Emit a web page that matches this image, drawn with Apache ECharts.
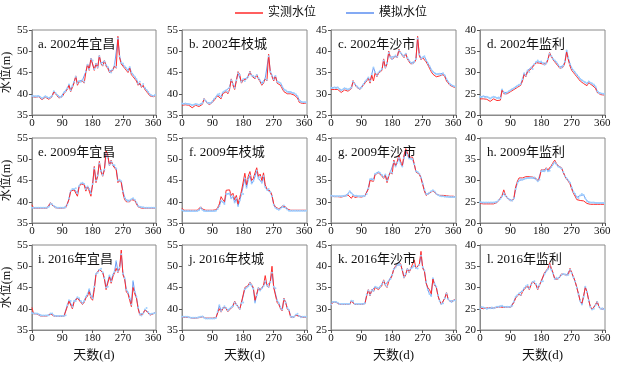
<!DOCTYPE html>
<html><head><meta charset="utf-8">
<script src="https://cdn.jsdelivr.net/npm/echarts@6/dist/echarts.min.js"></script>
<style>html,body{margin:0;padding:0;background:#fff}#c{width:626px;height:374px}</style>
</head><body><div id="c"></div>
<script>
const days = [0,5,10,15,20,25,30,35,40,45,50,55,60,65,70,75,80,85,90,95,100,105,110,115,120,125,130,135,140,145,150,155,160,165,170,175,180,185,190,195,200,205,210,215,220,225,230,235,240,245,250,255,260,265,270,275,280,285,290,295,300,305,310,315,320,325,330,335,340,345,350,355,360,365];
const xTicks = [0,90,180,270,360];
const titles = ['a. 2002年宜昌','b. 2002年枝城','c. 2002年沙市','d. 2002年监利','e. 2009年宜昌','f. 2009年枝城','g. 2009年沙市','h. 2009年监利','i. 2016年宜昌','j. 2016年枝城','k. 2016年沙市','l. 2016年监利'];
const yMins = [35,35,25,20,35,35,25,20,35,35,25,20];
const yMaxs = [55,55,45,40,55,55,45,40,55,55,45,40];

const a_obs=[39.3,39.0,39.2,39.0,39.3,39.0,38.6,38.9,39.2,39.0,38.7,39.0,39.3,40.5,40.0,39.5,39.0,39.0,39.3,40.0,40.3,41.0,42.0,40.5,41.5,42.5,44.2,42.0,42.8,42.5,43.0,42.5,45.0,47.0,45.5,48.4,48.0,45.5,47.2,46.0,49.0,47.0,46.5,47.8,46.5,46.0,45.0,44.8,45.5,46.5,46.0,53.5,48.5,47.0,46.8,46.0,45.5,45.0,46.0,44.5,44.0,43.5,43.0,42.0,42.5,41.5,42.0,41.0,40.5,40.0,39.5,39.4,39.3,39.5];
const a_sim=[39.5,39.3,39.4,39.3,39.5,39.2,38.9,39.1,39.4,39.2,39.0,39.2,39.5,40.6,40.2,39.7,39.3,39.2,39.5,40.3,40.6,41.3,42.2,40.8,41.8,42.8,44.0,42.5,43.0,42.8,43.2,42.8,45.2,46.8,45.8,48.2,47.8,45.8,47.0,46.3,48.8,47.2,46.8,47.6,46.8,46.3,45.3,45.0,45.7,46.7,46.3,53.0,48.8,47.3,47.1,46.4,46.0,45.5,46.3,45.0,44.5,44.0,43.4,42.4,42.8,41.9,42.3,41.4,40.9,40.4,39.8,39.6,39.5,39.7];
const b_obs=[37.3,37.2,37.4,37.2,37.3,37.0,36.7,37.0,37.3,37.2,37.0,37.3,37.5,38.9,38.2,37.8,37.4,37.5,38.0,38.5,38.8,39.5,39.8,38.8,40.0,40.2,40.5,40.0,41.0,43.5,42.0,41.0,43.0,45.2,44.5,42.5,43.2,42.8,43.5,44.0,45.3,44.2,44.0,43.5,44.5,43.5,42.8,42.0,42.5,43.5,43.0,49.3,45.0,44.0,43.0,44.2,42.5,42.2,42.0,41.2,40.5,40.3,40.0,39.8,40.0,39.8,39.7,39.5,39.0,38.0,37.8,37.7,37.7,37.8];
const b_sim=[37.7,37.6,37.7,37.6,37.6,37.5,37.3,37.4,37.6,37.5,37.4,37.6,37.8,38.7,38.3,37.9,37.7,37.8,38.2,38.8,39.2,39.8,40.0,39.3,40.3,40.6,40.8,40.5,41.5,43.2,42.3,41.4,43.2,44.8,44.4,42.8,43.4,43.0,43.6,44.0,45.0,44.3,44.2,43.8,44.4,43.7,43.1,42.4,42.8,43.6,43.3,48.8,45.2,44.3,43.4,44.2,42.9,42.7,42.5,41.7,41.0,40.8,40.5,40.3,40.4,40.2,40.1,39.9,39.4,38.5,38.1,38.0,38.0,38.0];
const c_obs=[31.0,30.8,31.0,30.8,31.0,30.6,30.3,30.6,30.9,30.8,30.6,30.8,31.2,33.1,32.2,31.6,31.2,31.0,31.3,32.0,32.5,33.0,33.6,32.5,34.4,33.0,35.0,34.0,34.8,35.2,35.5,38.2,36.0,37.0,40.0,38.5,38.0,38.5,39.0,38.5,40.5,39.5,39.0,38.5,39.5,38.2,37.5,37.0,36.8,37.3,38.0,43.5,39.0,38.0,38.5,38.8,37.5,36.8,36.0,35.2,34.6,34.3,34.0,34.0,34.2,34.0,34.5,34.0,33.0,32.5,32.0,31.8,31.6,31.5];
const c_sim=[31.4,31.3,31.5,31.3,31.5,31.1,30.8,31.0,31.3,31.2,31.0,31.2,31.5,32.8,32.3,31.8,31.4,31.2,31.5,32.2,32.8,33.3,33.8,33.0,34.6,36.2,35.0,34.3,35.0,35.4,35.8,37.8,36.3,37.2,39.6,38.6,38.2,38.7,39.0,38.7,40.2,39.6,39.2,38.8,39.4,38.4,37.8,37.3,37.1,37.5,38.2,43.0,39.3,38.3,38.6,38.8,37.9,37.2,36.5,35.7,35.2,34.9,34.6,34.6,34.7,34.5,34.8,34.3,33.4,32.8,32.3,32.0,31.8,31.7];
const d_obs=[23.8,23.6,23.8,23.5,23.7,23.4,23.2,23.5,23.8,23.6,23.4,23.6,23.5,25.9,25.0,24.7,25.0,25.4,25.5,25.8,26.0,26.3,26.5,26.8,27.0,28.0,29.5,29.0,30.2,29.8,30.8,30.5,31.8,32.3,32.5,32.2,32.4,32.0,31.6,32.0,33.0,34.7,33.8,33.0,32.5,32.2,31.5,31.0,30.8,31.3,32.3,34.8,33.0,31.5,30.5,30.0,29.5,29.0,28.5,28.0,27.7,27.4,27.2,26.9,27.6,27.2,27.0,26.8,26.3,25.3,24.9,24.8,24.7,24.7];
const d_sim=[24.3,24.2,24.4,24.2,24.3,24.1,23.9,24.1,24.3,24.2,24.0,24.1,24.0,26.0,25.3,25.0,25.3,25.6,25.8,26.1,26.3,26.6,26.9,27.1,27.3,28.4,29.8,29.3,30.5,30.1,31.1,30.8,32.0,32.5,32.8,32.5,32.6,32.2,31.8,32.2,33.2,34.4,33.9,33.2,32.8,32.4,31.8,31.3,31.1,31.6,32.6,35.2,33.4,32.0,31.0,30.5,30.0,29.5,29.0,28.5,28.2,27.9,27.7,27.4,27.9,27.6,27.4,27.2,26.7,25.6,25.2,25.1,25.0,25.0];
const e_obs=[39.3,38.5,38.5,38.5,38.4,38.5,38.5,38.5,38.4,38.5,38.6,39.8,39.2,38.8,38.6,38.5,38.5,38.5,38.5,38.5,38.6,39.0,40.5,42.5,42.8,42.8,43.0,41.3,43.5,44.2,44.3,44.0,42.5,43.5,42.5,41.3,44.0,48.3,44.5,46.0,49.5,47.0,46.0,47.5,52.0,51.0,48.5,49.8,48.5,48.5,47.5,44.5,45.0,44.5,42.0,40.5,40.0,39.8,40.0,40.5,40.7,40.3,39.5,38.8,38.6,38.5,38.5,38.5,38.5,38.5,38.5,38.5,38.5,38.5];
const e_sim=[38.6,38.6,38.6,38.6,38.6,38.6,38.6,38.6,38.6,38.6,38.8,39.6,39.4,39.0,38.7,38.6,38.6,38.6,38.6,38.6,38.7,39.3,40.8,42.6,43.0,43.0,43.2,42.0,43.7,44.3,44.5,44.2,43.0,43.6,43.0,42.0,44.2,47.8,45.0,46.2,49.0,47.3,46.3,47.6,51.2,50.6,48.7,49.5,48.7,48.6,47.8,45.0,45.2,44.8,42.5,41.0,40.4,40.1,40.3,40.6,40.8,40.5,39.8,39.0,38.8,38.7,38.7,38.6,38.6,38.6,38.6,38.6,38.6,38.6];
const f_obs=[38.5,38.0,38.0,38.0,38.0,38.0,38.0,38.0,38.0,38.0,38.3,38.8,38.3,38.0,38.0,38.0,38.0,38.0,38.0,38.0,38.1,38.6,39.5,41.2,40.5,40.0,42.7,42.5,42.8,41.5,42.0,40.5,41.5,39.5,41.0,42.5,42.5,46.7,44.0,46.0,47.1,45.0,45.5,46.8,48.0,46.0,46.5,45.0,46.8,44.0,43.0,43.2,42.5,41.5,39.5,38.8,38.5,38.3,38.6,39.0,39.3,38.8,38.3,38.0,38.0,38.0,38.0,38.0,38.0,38.0,38.0,38.0,38.0,38.0];
const f_sim=[38.0,37.8,37.8,37.8,37.8,37.8,37.8,37.8,37.8,37.8,38.0,38.6,38.1,37.8,37.8,37.8,37.8,37.8,37.8,37.8,37.9,38.3,39.0,40.3,40.0,39.5,41.8,41.8,42.0,40.8,41.3,39.8,40.8,39.0,40.3,41.8,41.8,45.5,43.3,45.2,46.2,44.3,44.8,46.0,47.3,45.5,45.8,44.5,46.0,43.5,42.8,43.0,42.3,41.3,39.3,38.6,38.3,38.1,38.4,38.8,39.1,38.6,38.2,37.9,37.9,37.9,37.9,37.9,37.9,37.9,37.9,37.9,37.9,37.9];
const g_obs=[31.3,31.2,31.2,31.1,31.2,31.2,31.1,31.2,31.3,31.2,31.6,31.8,30.8,31.5,31.0,31.4,31.2,31.5,31.1,31.3,31.4,31.8,33.0,35.0,35.0,34.8,36.4,36.5,36.8,36.4,36.0,35.5,36.2,34.5,36.0,37.0,36.5,39.8,38.5,39.5,41.0,39.5,38.5,41.0,42.5,41.5,40.5,40.5,40.5,39.0,37.0,36.8,36.5,35.5,34.0,32.5,31.5,31.7,32.0,32.4,32.6,32.3,31.8,31.6,31.5,31.4,31.5,31.3,31.4,31.2,31.3,31.2,31.3,31.2];
const g_sim=[31.4,31.3,31.3,31.3,31.3,31.3,31.3,31.3,31.4,31.4,31.8,32.5,32.0,31.6,31.4,31.4,31.3,31.3,31.3,31.3,31.4,31.8,33.2,35.3,35.4,35.2,36.6,36.7,37.0,36.7,36.3,35.8,36.4,35.0,36.2,37.0,36.8,39.3,38.3,39.2,40.3,39.0,38.3,40.3,42.0,41.0,40.2,40.2,40.0,38.8,37.2,37.0,36.6,35.7,34.3,32.8,31.8,31.8,32.1,32.5,32.7,32.4,31.9,31.6,31.4,31.3,31.3,31.2,31.2,31.2,31.1,31.1,31.1,31.1];
const h_obs=[24.6,24.6,24.5,24.6,24.5,24.5,24.5,24.6,24.5,24.6,24.8,25.3,25.6,26.5,27.8,26.5,26.0,25.5,25.2,25.2,26.0,28.5,29.8,30.6,30.9,30.6,30.9,30.9,31.0,30.9,31.0,30.8,31.0,30.5,30.0,30.5,32.5,32.8,32.5,33.0,32.5,32.5,33.5,34.2,34.8,34.0,33.5,33.3,33.0,32.0,31.0,30.3,29.8,29.2,28.0,27.0,26.3,25.5,25.3,25.3,25.5,25.2,24.8,24.6,24.5,24.4,24.4,24.4,24.4,24.4,24.4,24.4,24.4,24.4];
const h_sim=[24.9,24.8,24.8,24.8,24.8,24.8,24.8,24.8,24.8,24.8,25.0,25.4,25.7,26.3,27.0,26.4,26.0,25.6,25.3,25.3,25.8,28.0,29.4,30.0,30.3,30.2,30.4,30.5,30.6,30.6,30.7,30.6,30.7,30.3,29.8,30.2,32.2,32.4,32.2,32.7,32.2,32.3,33.2,33.8,34.3,33.8,33.3,33.1,32.8,32.0,31.0,30.5,30.0,29.5,28.3,27.3,26.8,26.0,25.9,26.5,26.8,26.6,25.8,25.2,24.9,24.8,24.8,24.8,24.7,24.7,24.7,24.7,24.7,24.7];
const i_obs=[40.3,38.8,38.8,38.8,38.6,38.3,38.3,38.3,38.3,38.3,38.4,38.8,38.8,38.3,38.2,38.2,38.2,38.2,38.2,38.2,38.3,40.5,41.8,41.5,40.0,41.5,41.5,42.5,42.3,41.5,41.0,41.5,42.5,43.0,44.0,42.5,42.0,44.5,48.0,48.3,49.3,49.6,48.5,47.0,44.5,44.8,47.5,46.0,47.5,48.5,49.5,48.5,49.5,53.8,48.0,47.0,44.0,43.5,42.0,40.5,45.0,43.5,42.5,40.0,38.5,38.2,38.8,39.8,40.2,39.0,38.5,38.7,38.8,39.2];
const i_sim=[39.0,38.9,38.9,38.9,38.7,38.4,38.4,38.4,38.4,38.4,38.5,38.9,38.9,38.4,38.3,38.3,38.3,38.3,38.3,38.3,38.5,40.8,42.0,41.8,40.5,41.8,41.8,42.7,42.5,41.8,41.3,41.8,42.8,43.4,44.6,43.0,42.5,45.2,48.2,48.5,49.2,49.4,48.6,47.2,45.0,45.2,47.8,46.5,48.0,48.7,51.2,48.8,49.7,52.8,48.3,47.2,44.5,43.8,42.5,41.0,46.5,44.0,42.8,40.3,38.7,38.4,38.9,39.8,40.2,39.2,38.7,38.8,38.9,39.0];
const j_obs=[38.0,38.0,38.0,38.0,38.0,37.8,37.8,37.8,37.8,37.8,37.9,38.0,38.1,37.8,37.8,37.8,37.8,37.8,37.8,37.8,37.9,39.0,40.0,39.2,40.0,40.5,40.0,39.3,39.8,40.2,40.5,41.8,41.0,40.5,39.8,41.5,41.8,45.0,45.2,45.5,46.3,46.0,45.0,42.0,43.5,45.0,44.5,45.0,45.5,47.8,45.5,45.0,46.5,50.0,45.0,44.8,41.5,41.0,40.0,39.5,42.5,41.5,40.0,39.5,38.0,37.8,38.0,38.5,38.8,38.2,37.8,38.0,38.0,38.0];
const j_sim=[38.1,38.1,38.1,38.1,38.0,37.9,37.9,37.9,37.9,37.9,38.0,38.1,38.2,37.9,37.7,37.7,37.7,37.7,37.7,37.7,37.8,39.3,40.8,39.5,40.2,40.6,40.2,39.6,40.0,40.3,40.6,41.5,41.0,40.5,40.0,41.3,41.5,44.6,45.0,45.3,46.0,45.6,44.7,41.5,43.2,44.8,44.3,44.8,45.3,46.5,45.5,45.2,46.3,48.5,45.2,44.8,42.0,41.3,40.3,39.8,42.2,41.5,40.2,39.7,38.2,38.0,38.1,38.6,38.8,38.3,38.0,38.1,38.1,38.1];
const k_obs=[30.8,31.5,31.5,31.5,31.3,31.0,31.0,31.0,31.0,31.0,31.0,31.0,31.8,31.7,31.0,31.0,31.0,31.0,31.0,31.0,31.2,33.0,34.5,33.0,34.5,34.0,35.0,34.8,34.5,35.0,35.5,36.8,35.5,35.0,36.5,37.0,37.8,39.5,39.8,40.5,41.0,40.5,39.0,37.2,38.0,39.5,38.5,39.5,39.8,41.5,39.5,39.3,40.5,43.5,39.5,38.8,36.0,35.0,34.5,33.5,37.0,35.5,35.0,33.0,31.8,31.0,31.2,32.5,33.8,32.2,31.8,31.5,32.0,32.2];
const k_sim=[31.0,31.6,31.6,31.6,31.4,31.1,31.1,31.1,31.1,31.1,31.1,31.1,31.9,31.8,31.1,31.1,31.1,31.1,31.1,31.1,31.3,33.3,34.3,33.3,34.3,34.2,35.2,35.0,34.8,35.2,35.8,36.5,35.7,35.3,36.6,37.0,38.0,39.3,39.7,40.3,40.7,40.3,39.2,37.5,38.2,39.3,38.7,39.5,39.7,40.2,39.6,39.5,40.3,42.5,39.8,39.0,36.3,34.5,33.5,33.0,37.2,35.8,35.2,33.2,31.8,31.1,31.3,32.5,33.6,32.3,31.8,31.6,31.9,32.0];
const l_obs=[25.2,25.3,25.0,25.4,25.2,25.0,25.3,25.0,25.2,25.1,25.3,25.2,25.4,25.8,25.3,25.2,25.4,25.2,25.3,25.5,26.5,27.5,28.0,28.5,28.0,29.0,29.5,30.0,30.5,29.5,30.5,31.5,31.5,30.5,29.5,30.5,31.5,31.5,33.5,34.0,34.5,35.8,34.5,33.5,32.0,32.2,32.0,32.5,33.2,33.3,33.0,32.8,33.0,34.5,33.5,32.5,31.5,30.0,28.5,26.8,26.3,28.0,30.0,29.0,27.0,25.5,24.8,25.2,26.0,26.8,25.5,25.0,25.2,25.0];
const l_sim=[25.0,25.4,25.3,25.2,25.0,25.2,25.1,25.3,25.1,25.3,25.5,25.4,25.6,25.7,25.5,25.4,25.5,25.4,25.5,25.7,26.7,27.8,28.2,28.6,28.3,29.2,29.8,30.3,30.6,29.8,30.7,31.3,31.5,30.8,29.8,30.6,31.4,31.5,33.2,33.8,34.3,35.2,34.2,33.3,32.0,32.3,32.1,32.6,33.0,33.2,33.1,32.9,33.0,34.2,33.4,32.4,31.4,30.0,28.4,26.8,26.0,27.8,30.2,29.0,27.0,25.4,24.8,25.0,25.8,26.6,25.5,25.0,25.1,24.9];

const obsList=[a_obs,b_obs,c_obs,d_obs,e_obs,f_obs,g_obs,h_obs,i_obs,j_obs,k_obs,l_obs];
const simList=[a_sim,b_sim,c_sim,d_sim,e_sim,f_sim,g_sim,h_sim,i_sim,j_sim,k_sim,l_sim];

const FONT = "'Liberation Serif','Noto Sans CJK SC',serif";
const lefts=[31,182,331,480], tops=[30,138,245], W=125, H=85;
const RED='#ff2a2a', BLUE='#5b8ef0', DOT='#9fd0ff';

const grid=[],xAxis=[],yAxis=[],series=[],title=[];
for(let k=0;k<12;k++){
  const r=Math.floor(k/4), c=k%4;
  grid.push({left:lefts[c],top:tops[r],width:W,height:H,show:true,borderColor:'#8a8a8a',borderWidth:1,backgroundColor:'transparent'});
  xAxis.push({type:'value',gridIndex:k,min:0,max:368,interval:90,
    axisLine:{show:true,onZero:false,lineStyle:{color:'#8a8a8a'}},
    axisTick:{show:true,length:3,lineStyle:{color:'#555'}},
    axisLabel:{color:'#111',fontFamily:FONT,fontSize:11,margin:3,formatter:v=>xTicks.includes(v)?String(v):''},
    splitLine:{show:false},
    name: r===2?'天数(d)':'', nameLocation:'middle', nameGap:19,
    nameTextStyle:{fontFamily:FONT,fontSize:13,color:'#111'}});
  yAxis.push({type:'value',gridIndex:k,min:yMins[k],max:yMaxs[k],interval:5,
    axisLine:{show:true,lineStyle:{color:'#8a8a8a'}},
    axisTick:{show:true,length:3,lineStyle:{color:'#555'}},
    axisLabel:{color:'#111',fontFamily:FONT,fontSize:11,margin:4},
    splitLine:{show:false},
    name: c===0?'水位(m)':'', nameLocation:'middle', nameGap:18,
    nameTextStyle:{fontFamily:FONT,fontSize:12,color:'#111'}});
  title.push({text:titles[k],left:lefts[c]+2,top:tops[r]+3,
    textStyle:{fontFamily:FONT,fontSize:13,fontWeight:'normal',color:'#111'}});
  series.push({name:'模拟水位',type:'line',xAxisIndex:k,yAxisIndex:k,
    data:days.map((d,i)=>[d,simList[k][i]]),
    showSymbol:true,symbol:'circle',symbolSize:2,
    itemStyle:{color:DOT},lineStyle:{color:BLUE,width:0.9},
    animation:false,silent:true,legendIcon:'rect'});
  series.push({name:'实测水位',type:'line',xAxisIndex:k,yAxisIndex:k,
    data:days.map((d,i)=>[d,obsList[k][i]]),
    showSymbol:false,symbol:'none',
    itemStyle:{color:RED},lineStyle:{color:RED,width:1},
    animation:false,silent:true,legendIcon:'rect'});
}

const chart=echarts.init(document.getElementById('c'),null,{renderer:'canvas'});
chart.setOption({
  animation:false,
  backgroundColor:'#fff',
  title,
  legend:{data:[{name:'实测水位',itemStyle:{color:RED}},{name:'模拟水位',itemStyle:{color:BLUE}}],
    top:2,left:230,itemWidth:28,itemHeight:1.5,itemGap:30,icon:'rect',
    textStyle:{fontFamily:FONT,fontSize:12,color:'#111'}},
  grid,xAxis,yAxis,series
});
</script></body></html>
